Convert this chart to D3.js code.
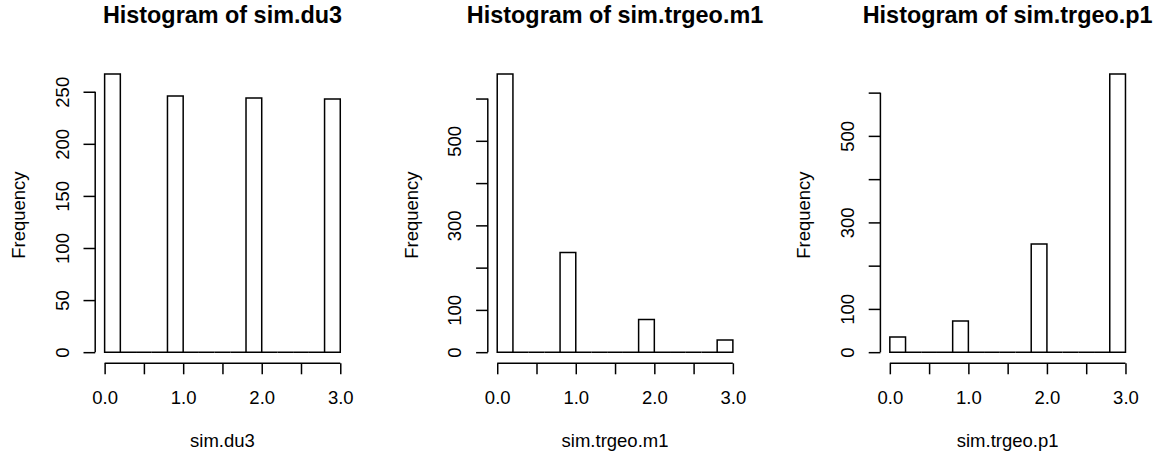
<!DOCTYPE html>
<meta charset='utf-8'>
<style>
    body { margin: 0; background: #fff; }
    text { font-family: 'Liberation Sans', Arial, sans-serif; fill: #000; }
    .title { font-size: 23.4px; font-weight: bold; }
    .lab, .tick text { font-size: 18.5px; }
    .bars path { fill: #fff; stroke: #000; stroke-width: 1.5; }
    .axis line, .axis-line { stroke: #000; stroke-width: 1.5; }
</style>

<svg width="1161" height="455"></svg>
<script src="https://d3js.org/d3.v7.min.js"></script>

<script>

// histogram data (bins of width 0.2 from 0 to 3)
var breaks = [0, 0.2, 0.4, 0.6, 0.8, 1.0, 1.2, 1.4, 1.6, 1.8, 2.0, 2.2, 2.4, 2.6, 2.8, 3.0];

var countsDu3 = [267, 0, 0, 0, 246, 0, 0, 0, 0, 244, 0, 0, 0, 0, 243];
var countsM1  = [658, 0, 0, 0, 236, 0, 0, 0, 0, 77, 0, 0, 0, 0, 29];
var countsP1  = [35, 0, 0, 0, 72, 0, 0, 0, 0, 250, 0, 0, 0, 0, 643];

var varNames = ['sim.du3', 'sim.trgeo.m1', 'sim.trgeo.p1'];

var xTicks = [0, 0.5, 1, 1.5, 2, 2.5, 3];
var xTickLabels = ['0.0', '', '1.0', '', '2.0', '', '3.0'];

var yTicksDu3 = [0, 50, 100, 150, 200, 250];
var yLabelsDu3 = ['0', '50', '100', '150', '200', '250'];
var yTicksTr = [0, 100, 200, 300, 400, 500, 600];
var yLabelsTr = ['0', '100', '', '300', '', '500', ''];

var panels = [
    { name: varNames[0], counts: countsDu3, yTicks: yTicksDu3, yLabels: yLabelsDu3 },
    { name: varNames[1], counts: countsM1,  yTicks: yTicksTr,  yLabels: yLabelsTr },
    { name: varNames[2], counts: countsP1,  yTicks: yTicksTr,  yLabels: yLabelsTr }
];

var svg = d3.select('svg');

var panelStep = 392.6,
    plotLeft = 95.2,
    plotW = 254.5,
    plotTop = 62.9,
    plotBottom = 363.3;

panels.forEach(function(p, i) {
    var g = svg.append('g')
        .attr('transform', 'translate(' + (i * panelStep) + ',0)');

    var ymax = d3.max(p.counts);
    var x = d3.scaleLinear().domain([-0.12, 3.12]).range([plotLeft, plotLeft + plotW]);
    var y = d3.scaleLinear().domain([-0.04 * ymax, 1.04 * ymax]).range([plotBottom, plotTop]);

    var bins = p.counts.map(function(c, j) {
        return { x0: breaks[j], x1: breaks[j + 1], n: c };
    });

    g.append('g')
        .attr('class', 'bars')
       .selectAll('path')
       .data(bins)
       .enter().append('path')
        .attr('d', function(d) {
            return 'M' + x(d.x0) + ',' + y(0) + 'V' + y(d.n) + 'H' + x(d.x1) + 'V' + y(0) + 'Z';
        });

    // x axis
    var xa = g.append('g')
        .attr('class', 'axis')
        .attr('transform', 'translate(0,' + plotBottom + ')')
        .call(d3.axisBottom(x)
            .tickValues(xTicks)
            .tickSize(11)
            .tickFormat(function(d, k) { return xTickLabels[k]; }));
    xa.select('.domain').remove();
    xa.append('line')
        .attr('class', 'axis-line')
        .attr('x1', x(xTicks[0])).attr('x2', x(xTicks[xTicks.length - 1]));
    xa.selectAll('.tick text')
        .attr('y', 41).attr('dy', 0);

    // y axis
    var ya = g.append('g')
        .attr('class', 'axis')
        .attr('transform', 'translate(' + plotLeft + ',0)')
        .call(d3.axisLeft(y)
            .tickValues(p.yTicks)
            .tickSize(11.7)
            .tickFormat(function(d, k) { return p.yLabels[k]; }));
    ya.select('.domain').remove();
    ya.append('line')
        .attr('class', 'axis-line')
        .attr('y1', y(p.yTicks[0])).attr('y2', y(p.yTicks[p.yTicks.length - 1]));
    ya.selectAll('.tick text')
        .attr('x', 0).attr('y', 0).attr('dy', 0)
        .attr('text-anchor', 'middle')
        .attr('transform', 'translate(-26.7,0) rotate(-90)');

    var cx = plotLeft + plotW / 2;

    g.append('text')
        .attr('class', 'title')
        .attr('x', cx).attr('y', 23)
        .attr('text-anchor', 'middle')
        .text('Histogram of ' + p.name);

    g.append('text')
        .attr('class', 'lab')
        .attr('x', cx).attr('y', 447)
        .attr('text-anchor', 'middle')
        .text(p.name);

    g.append('text')
        .attr('class', 'lab')
        .attr('text-anchor', 'middle')
        .attr('transform', 'translate(' + (plotLeft - 70.2) + ',' + ((plotTop + plotBottom) / 2 + 2) + ') rotate(-90)')
        .text('Frequency');
});
</script>
